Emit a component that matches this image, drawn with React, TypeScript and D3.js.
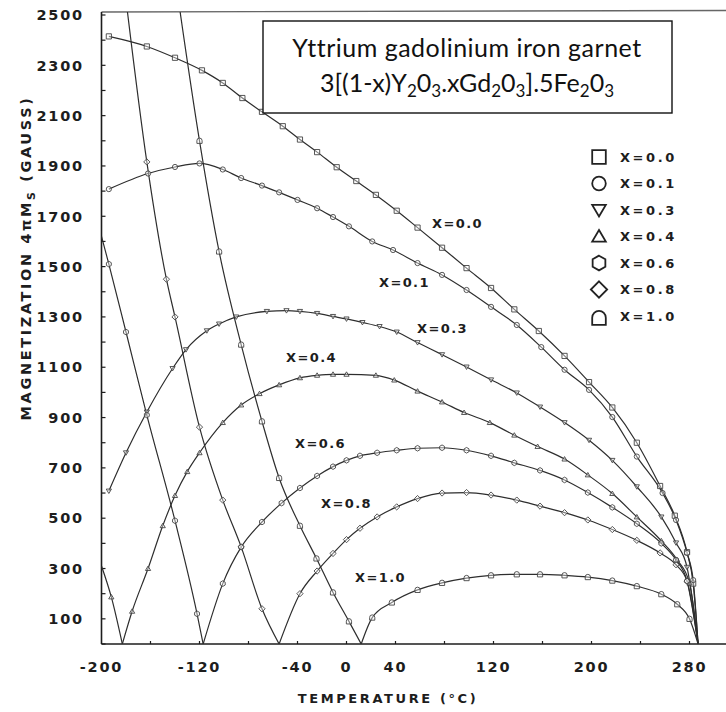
import React from "react";
import * as d3 from "d3";

// ---- data: [temperature °C, 4πMs gauss] ----
const x00: [number, number][] = [
  [-194, 2415], [-163, 2375], [-140, 2330], [-118, 2280], [-101, 2230], [-85, 2170], [-69, 2115],
  [-52, 2058], [-38, 2005], [-24, 1955], [-8, 1895], [8, 1840], [24, 1785], [41, 1722], [58, 1655],
  [78, 1575], [98, 1494], [118, 1415], [137, 1330], [157, 1244], [178, 1145], [198, 1041],
  [217, 940], [237, 800], [256, 628], [268, 510], [278, 365], [283, 240], [287, 0],
];
const x01: [number, number][] = [
  [-194, 1808], [-162, 1870], [-140, 1896], [-120, 1910], [-101, 1886], [-86, 1852], [-69, 1822],
  [-55, 1795], [-40, 1765], [-24, 1732], [-11, 1697], [2, 1660], [21, 1600], [38, 1566], [58, 1514],
  [78, 1467], [98, 1407], [118, 1340], [139, 1268], [159, 1180], [178, 1090], [198, 1010],
  [217, 902], [237, 745], [258, 600], [269, 493], [278, 362], [283, 254], [287, 0],
];
const x03: [number, number][] = [
  [-194, 608], [-180, 760], [-163, 922], [-142, 1095], [-131, 1170], [-114, 1245], [-104, 1272],
  [-90, 1300], [-65, 1322], [-49, 1325], [-38, 1322], [-24, 1314], [-11, 1302], [0, 1292],
  [13, 1278], [27, 1262], [41, 1240], [58, 1198], [78, 1150], [98, 1101], [118, 1050], [139, 998],
  [158, 942], [178, 880], [198, 810], [217, 730], [237, 625], [257, 505], [269, 402], [278, 305], [287, 0],
];
const x04: [number, number][] = [
  [-200, 310], [-192, 187], [-183, 0], [-175, 130], [-162, 300], [-150, 470], [-140, 590],
  [-130, 685], [-120, 760], [-101, 880], [-86, 950], [-71, 995], [-55, 1030], [-38, 1058],
  [-24, 1068], [-11, 1072], [0, 1072], [24, 1068], [39, 1049], [58, 1005], [78, 962], [96, 920],
  [117, 880], [137, 830], [156, 785], [178, 735], [197, 672], [217, 598], [237, 505], [257, 410],
  [270, 334], [280, 242], [287, 0],
];
const x06: [number, number][] = [
  [-200, 1620], [-194, 1510], [-180, 1240], [-163, 910], [-140, 490], [-122, 120], [-117, 0],
  [-101, 240], [-86, 385], [-69, 485], [-53, 560], [-38, 620], [-24, 668], [-11, 705], [0, 730],
  [11, 748], [25, 760], [41, 770], [58, 778], [78, 780], [98, 770], [118, 748], [137, 720],
  [158, 690], [178, 652], [197, 602], [217, 543], [237, 478], [257, 400], [269, 334], [278, 250], [287, 0],
];
const x08: [number, number][] = [
  [-181, 2600], [-163, 1916], [-147, 1450], [-140, 1300], [-120, 862], [-101, 572], [-86, 386],
  [-69, 140], [-55, 0], [-38, 200], [-24, 290], [-11, 360], [0, 415], [11, 460], [25, 505],
  [41, 545], [58, 578], [78, 600], [98, 602], [118, 592], [139, 572], [158, 548], [178, 522],
  [197, 493], [217, 455], [237, 412], [256, 362], [269, 315], [278, 250], [287, 0],
];
const x10: [number, number][] = [
  [-139, 2620], [-120, 2000], [-104, 1560], [-86, 1190], [-69, 885], [-55, 660], [-38, 470],
  [-24.5, 340], [-11, 205], [2, 90], [12, 0], [21, 105], [37, 165], [58, 215], [78, 243],
  [98, 262], [118, 273], [139, 277], [158, 277], [178, 273], [197, 266], [217, 252], [237, 230],
  [257, 198], [270, 158], [280, 100], [287, 0],
];

const seriesLabels = ["X=0.0", "X=0.1", "X=0.3", "X=0.4", "X=0.6", "X=0.8", "X=1.0"];
const seriesSymbols = ["square", "circle", "triDown", "triUp", "hexagon", "diamond", "arch"];
const seriesData = [x00, x01, x03, x04, x06, x08, x10];
// curve-label anchors in data units [T, M]
const curveLabelAt: [number, number][] = [
  [90.6, 1673], [47.3, 1439], [78.4, 1256], [-28.6, 1141], [-21.2, 799], [0, 560], [27.8, 266],
];

const yTickLabels = [100, 300, 500, 700, 900, 1100, 1300, 1500, 1700, 1900, 2100, 2300, 2500];
const xTickLabels = [-200, -120, -40, 0, 40, 120, 200, 280];
const yMinorTicks = d3.range(0, 2501, 100);
const xMinorTicks = d3.range(-160, 281, 40);

const titleLine1 = "Yttrium gadolinium iron garnet";
// [text, isSubscript]
const titleLine2: [string, boolean][] = [
  ["3[(1-x)Y", false], ["2", true], ["0", false], ["3", true], [".xGd", false], ["2", true],
  ["0", false], ["3", true], ["].5Fe", false], ["2", true], ["0", false], ["3", true],
];

function symbolPath(kind: string, r: number): string {
  switch (kind) {
    case "square":
      return `M${-r},${-r}h${2 * r}v${2 * r}h${-2 * r}Z`;
    case "circle":
      return `M${r},0A${r},${r} 0 1 1 ${-r},0A${r},${r} 0 1 1 ${r},0Z`;
    case "triDown":
      return `M${-r},${-r * 0.75}L${r},${-r * 0.75}L0,${r * 0.95}Z`;
    case "triUp":
      return `M0,${-r * 0.95}L${r},${r * 0.75}L${-r},${r * 0.75}Z`;
    case "hexagon": {
      const pts = d3.range(6).map((k) => {
        const a = -Math.PI / 2 + (k * Math.PI) / 3;
        return [r * 1.08 * Math.cos(a), r * 1.08 * Math.sin(a)];
      });
      return "M" + pts.map((p) => p.join(",")).join("L") + "Z";
    }
    case "diamond":
      return `M0,${-r * 1.2}L${r * 1.2},0L0,${r * 1.2}L${-r * 1.2},0Z`;
    case "arch":
      return `M${-r},${r}L${r},${r}L${r},${-r * 0.05}A${r},${r} 0 0 0 ${-r},${-r * 0.05}Z`;
  }
  return "";
}

const W = 726;
const H = 712;
const FONT = "'DejaVu Sans', sans-serif";
const TITLE_FONT = "Lato, 'Open Sans', sans-serif";
const INK = "#1d1d1d";

export default function App() {
  const x = d3.scaleLinear().domain([-200, 280]).range([101.5, 689.5]);
  const y = d3.scaleLinear().domain([0, 2500]).range([644, 15]);
  const left = x(-200);
  const bottom = y(0);
  const top = 12;

  const line = d3
    .line<[number, number]>()
    .x((d) => x(d[0]))
    .y((d) => y(d[1]))
    .curve(d3.curveMonotoneX);

  const segmentsOf = (data: [number, number][]) => {
    const segs: [number, number][][] = [];
    let cur: [number, number][] = [];
    data.forEach((d, i) => {
      cur.push(d);
      if (d[1] === 0 && i > 0) {
        segs.push(cur);
        cur = [d];
      }
    });
    if (cur.length > 1) segs.push(cur);
    return segs;
  };

  return (
    <svg
      width={W}
      height={H}
      style={{ display: "block", background: "#fff", position: "absolute", left: 0, top: 0 }}
    >
      <defs>
        <clipPath id="plotClip">
          <rect x={left} y={top} width={W - left} height={bottom - top} />
        </clipPath>
      </defs>

      {/* frame */}
      <line x1={left} x2={W} y1={top} y2={top - 1.5} stroke="#666" strokeWidth={1.3} />
      <line x1={left} x2={left} y1={top} y2={bottom} stroke={INK} strokeWidth={1.6} />
      <line x1={left} x2={W} y1={bottom} y2={bottom} stroke={INK} strokeWidth={1.6} />

      {/* ticks */}
      {yMinorTicks.map((v) => (
        <line key={"yt" + v} x1={left} x2={left + 4} y1={y(v)} y2={y(v)} stroke={INK} strokeWidth={1.2} />
      ))}
      {xMinorTicks.map((v) => (
        <line key={"xt" + v} x1={x(v)} x2={x(v)} y1={bottom} y2={bottom - 3} stroke={INK} strokeWidth={1.2} />
      ))}

      {/* tick labels */}
      {yTickLabels.map((v) => (
        <text
          key={"yl" + v}
          x={84}
          y={y(v)}
          dy="0.36em"
          textAnchor="end"
          fontFamily={FONT}
          fontWeight="bold"
          fontSize={14.5}
          letterSpacing={1.8}
          fill={INK}
        >
          {v}
        </text>
      ))}
      {xTickLabels.map((v) => (
        <text
          key={"xl" + v}
          x={x(v)}
          y={672}
          textAnchor="middle"
          fontFamily={FONT}
          fontWeight="bold"
          fontSize={14.5}
          letterSpacing={1.8}
          fill={INK}
        >
          {v}
        </text>
      ))}

      {/* axis titles */}
      <text
        x={388}
        y={703}
        textAnchor="middle"
        fontFamily={FONT}
        fontWeight="bold"
        fontSize={13}
        letterSpacing={2.6}
        fill={INK}
      >
        TEMPERATURE (°C)
      </text>
      <text
        transform="translate(31,258) rotate(-90)"
        textAnchor="middle"
        fontFamily={FONT}
        fontWeight="bold"
        fontSize={14.5}
        letterSpacing={2.6}
        fill={INK}
      >
        MAGNETIZATION 4πM
        <tspan dy={4} fontSize={11}>S</tspan>
        <tspan dy={-4}> (GAUSS)</tspan>
      </text>

      {/* curves */}
      <g clipPath="url(#plotClip)">
        {seriesData.map((data, si) =>
          segmentsOf(data).map((seg, k) => (
            <path
              key={`c${si}-${k}`}
              d={line(seg) || ""}
              fill="none"
              stroke="#2e2e2e"
              strokeWidth={1.2}
            />
          ))
        )}
        {seriesData.map((data, si) =>
          data
            .filter((d) => d[1] > 0 && d[1] <= 2500 && d[0] > -199)
            .map((d, k) => (
              <path
                key={`m${si}-${k}`}
                transform={`translate(${x(d[0])},${y(d[1])})`}
                d={symbolPath(seriesSymbols[si], 2.6)}
                fill="#fff"
                fillOpacity={0.4}
                stroke="#444"
                strokeWidth={0.9}
              />
            ))
        )}
      </g>

      {/* curve labels */}
      {curveLabelAt.map((p, i) => (
        <text
          key={"cl" + i}
          x={x(p[0])}
          y={y(p[1])}
          dy="0.36em"
          textAnchor="middle"
          fontFamily={FONT}
          fontWeight="bold"
          fontSize={13}
          letterSpacing={1.4}
          fill={INK}
        >
          {seriesLabels[i]}
        </text>
      ))}

      {/* legend */}
      {seriesLabels.map((lab, i) => {
        const cy = 157 + i * 26.5;
        return (
          <g key={"lg" + i}>
            <path
              transform={`translate(599,${cy + (i === 6 ? 2 : 0)})`}
              d={symbolPath(seriesSymbols[i], 6.8)}
              fill="none"
              stroke="#222"
              strokeWidth={1.8}
            />
            <text
              x={620}
              y={cy}
              dy="0.36em"
              fontFamily={FONT}
              fontWeight="bold"
              fontSize={13}
              letterSpacing={2.6}
              fill={INK}
            >
              {lab}
            </text>
          </g>
        );
      })}

      {/* title box */}
      <rect x={263} y={21} width={409} height={92} fill="#fff" stroke="#111" strokeWidth={1.4} />
      <text
        x={467}
        y={57}
        textAnchor="middle"
        fontFamily={TITLE_FONT}
        fontSize={25}
        letterSpacing={0.5}
        fill="#111"
      >
        {titleLine1}
      </text>
      <text x={467} y={92} textAnchor="middle" fontFamily={TITLE_FONT} fontSize={25} fill="#111">
        {titleLine2.map(([t, sub], i) => {
          const prevSub = i > 0 && titleLine2[i - 1][1];
          const dy = sub && !prevSub ? 5 : !sub && prevSub ? -5 : 0;
          return (
            <tspan key={i} dy={dy} fontSize={sub ? 17 : 25}>
              {t}
            </tspan>
          );
        })}
      </text>
    </svg>
  );
}
